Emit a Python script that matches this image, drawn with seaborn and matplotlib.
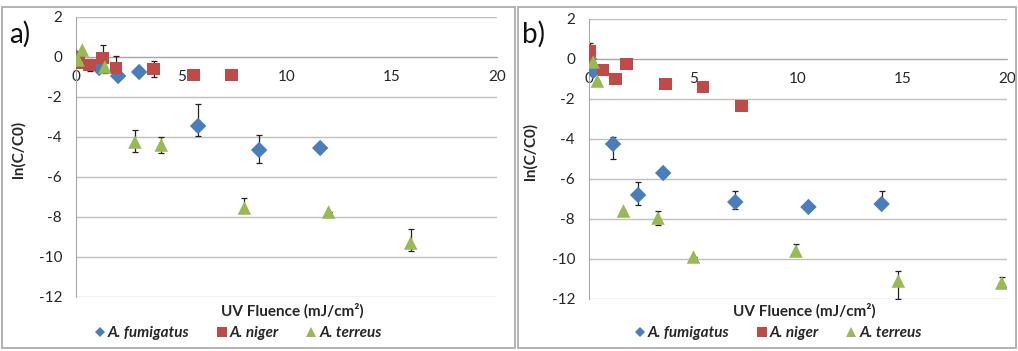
import numpy as np
import pandas as pd
import matplotlib
matplotlib.use("Agg")
import matplotlib.pyplot as plt
from matplotlib.patches import Rectangle
from matplotlib.lines import Line2D
import seaborn as sns

sns.set_style("white")
plt.rcParams['font.family'] = ['Lato', 'DejaVu Sans']
plt.rcParams['axes.unicode_minus'] = False

species = ["A. fumigatus", "A. niger", "A. terreus"]
colors = ["#4a7ebb", "#be4b48", "#98b954"]
markers = ["D", "s", "^"]

# ---- Panel a ----
a_fum_x = [0.0, 1.1, 2.0, 3.0, 5.8, 8.7, 11.6]
a_fum_y = [0.0, -0.55, -0.95, -0.75, -3.45, -4.65, -4.55]
a_fum_lo = [0, 0.2, 0, 0, 0.5, 0.65, 0]
a_fum_hi = [0, 0.2, 0, 0, 1.1, 0.75, 0]

a_nig_x = [0.1, 0.1, 0.66, 1.27, 1.9, 3.7, 5.6, 7.4]
a_nig_y = [0.0, -0.3, -0.4, -0.05, -0.55, -0.6, -0.9, -0.9]
a_nig_lo = [0, 0, 0.3, 0.65, 0.2, 0.4, 0, 0]
a_nig_hi = [0, 0, 0.3, 0.65, 0.6, 0.4, 0, 0]

a_ter_x = [0.1, 0.3, 1.37, 2.8, 4.05, 8.0, 12.0, 15.9]
a_ter_y = [-0.15, 0.35, -0.5, -4.25, -4.4, -7.55, -7.75, -9.3]
a_ter_lo = [0, 0, 0.3, 0.5, 0.4, 0, 0, 0.4]
a_ter_hi = [0, 0, 0.2, 0.6, 0.4, 0.5, 0, 0.7]

# ---- Panel b ----
b_fum_x = [0.0, 0.2, 1.15, 2.35, 3.55, 7.0, 10.5, 14.0]
b_fum_y = [0.0, -0.6, -4.25, -6.8, -5.7, -7.15, -7.4, -7.25]
b_fum_lo = [0, 0, 0.75, 0.5, 0.2, 0.35, 0, 0.1]
b_fum_hi = [0, 0, 0.35, 0.65, 0, 0.55, 0, 0.65]

b_nig_x = [0.0, 0.05, 0.67, 1.25, 1.8, 3.65, 5.45, 7.3]
b_nig_y = [-0.1, 0.4, -0.55, -1.0, -0.25, -1.25, -1.4, -2.35]
b_nig_lo = [0, 0.3, 0, 0, 0, 0, 0, 0]
b_nig_hi = [0, 0.4, 0, 0, 0, 0, 0, 0]

b_ter_x = [0.2, 0.4, 1.65, 3.3, 5.0, 9.9, 14.8, 19.75]
b_ter_y = [-0.15, -1.1, -7.6, -7.95, -9.9, -9.6, -11.1, -11.2]
b_ter_lo = [0, 0, 0, 0.35, 0, 0.2, 0.9, 0.1]
b_ter_hi = [0, 0, 0, 0.35, 0, 0.35, 0.5, 0.3]

x_ticks = [0, 5, 10, 15, 20]
y_ticks = [2, 0, -2, -4, -6, -8, -10, -12]
x_label = "UV Fluence (mJ/cm²)"
y_label = "ln(C/C0)"

panels = {
    "a)": [(a_fum_x, a_fum_y, a_fum_lo, a_fum_hi),
           (a_nig_x, a_nig_y, a_nig_lo, a_nig_hi),
           (a_ter_x, a_ter_y, a_ter_lo, a_ter_hi)],
    "b)": [(b_fum_x, b_fum_y, b_fum_lo, b_fum_hi),
           (b_nig_x, b_nig_y, b_nig_lo, b_nig_hi),
           (b_ter_x, b_ter_y, b_ter_lo, b_ter_hi)],
}

W, H = 1018, 351
fig = plt.figure(figsize=(W / 100, H / 100), dpi=100)

# panel frames (pixels)
frames = [(2, 7, 515, 348), (518, 7, 1016, 348)]
for (x0, y0, x1, y1) in frames:
    fig.add_artist(Rectangle((x0 / W, 1 - y1 / H), (x1 - x0) / W, (y1 - y0) / H,
                             transform=fig.transFigure, fill=False,
                             edgecolor="#a6a6a6", linewidth=1.2))

# axes boxes (pixels): left, right, top, bottom
boxes = [(76, 497, 17, 297), (589, 1007, 19, 299)]
ylabel_x = [18, 530]
label_pos = [(9, 34), (522, 34)]
legend_cx = [237, 777]

tick_color = "#262626"
for (name, series), (l, r, t, b), ylx, (lx, ly), lcx in zip(panels.items(), boxes, ylabel_x, label_pos, legend_cx):
    ax = fig.add_axes([l / W, 1 - b / H, (r - l) / W, (b - t) / H])
    rows = []
    for sp, (xs, ys, lo, hi) in zip(species, series):
        for xv, yv in zip(xs, ys):
            rows.append({"x": xv, "y": yv, "species": sp})
    df = pd.DataFrame(rows)
    for sp, c, (xs, ys, lo, hi) in zip(species, colors, series):
        ax.errorbar(xs, ys, yerr=[lo, hi], fmt="none", ecolor="#222222",
                    elinewidth=0.9, capsize=2.5, capthick=0.9, zorder=2)
    sns.scatterplot(data=df, x="x", y="y", hue="species", style="species",
                    palette=dict(zip(species, colors)),
                    markers=dict(zip(species, markers)),
                    size="species", sizes={"A. fumigatus": 70, "A. niger": 85, "A. terreus": 95},
                    linewidth=0, legend=False, ax=ax, zorder=3)
    ax.set_xlim(0, 20)
    ax.set_ylim(-12, 2)
    ax.set_xticks(x_ticks)
    ax.set_yticks(y_ticks)
    ax.set_xlabel("")
    ax.set_ylabel("")
    ax.grid(axis="y", color="#bfbfbf", linewidth=1.0)
    ax.set_axisbelow(True)
    for s in ["top", "right"]:
        ax.spines[s].set_visible(False)
    ax.spines["bottom"].set_position(("data", 0))
    ax.spines["bottom"].set_color("#a6a6a6")
    ax.spines["left"].set_color("#a6a6a6")
    ax.spines["bottom"].set_zorder(1)
    ax.tick_params(axis="x", direction="inout", length=5, color="#a6a6a6",
                   labelsize=11, labelcolor=tick_color, pad=7)
    ax.tick_params(axis="y", direction="out", length=4, color="#a6a6a6",
                   labelsize=11, labelcolor=tick_color, pad=6)
    for lab in ax.get_xticklabels():
        lab.set_zorder(0)
    fig.text(ylx / W, 1 - ((t + b) / 2 - 8) / H, y_label, rotation=90,
             ha="center", va="center", fontsize=11, fontweight="bold", color=tick_color)
    fig.text(((l + r) / 2 + 6) / W, 1 - 311 / H, x_label, ha="center", va="center",
             fontsize=11, fontweight="bold", color=tick_color)
    fig.text(lx / W, 1 - ly / H, name, ha="left", va="center", fontsize=20, color="#111111")
    handles = [Line2D([], [], linestyle="none", marker=m, color=c, markersize=ms,
                      markeredgewidth=0)
               for m, c, ms in zip(markers, colors, [5.5, 7.5, 7.5])]
    leg = fig.legend(handles, species, loc="center", ncol=3,
                     bbox_to_anchor=(lcx / W, 1 - 333 / H), frameon=False,
                     handletextpad=0.05, columnspacing=1.6, handlelength=1.0,
                     prop={"size": 11, "weight": "bold", "style": "italic"})
    for txt in leg.get_texts():
        txt.set_color(tick_color)

fig.savefig("out.png", dpi=100)
